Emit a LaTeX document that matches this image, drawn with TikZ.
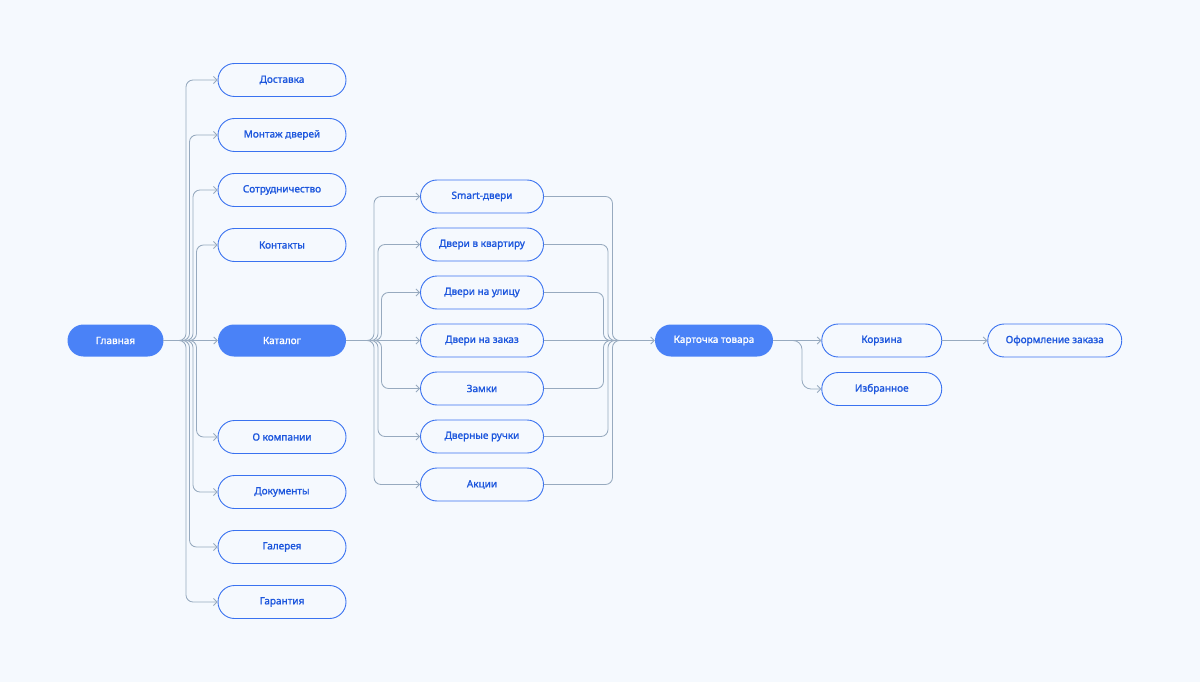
\documentclass[tikz,border=0pt]{standalone}
\usepackage{fontspec}
\newfontfamily\nf{Noto Sans}[FakeBold=1.4]
\usetikzlibrary{arrows.meta}
\definecolor{bg}{HTML}{F5F9FE}
\definecolor{nodefill}{HTML}{4A82F7}
\definecolor{nodeborder}{HTML}{3A72F0}
\definecolor{nodetext}{HTML}{1C56DD}
\definecolor{conncol}{HTML}{97AABF}
\begin{document}
\begin{tikzpicture}[x=1pt,y=-1pt,
  box/.style={draw=nodeborder, line width=0.9pt, rounded corners=16.5pt,
    minimum height=33pt, text=nodetext, inner sep=0pt,
    font=\nf\fontsize{10}{12}\selectfont},
  filled/.style={fill=nodefill, draw=none, rounded corners=16pt,
    minimum height=32pt, text=white, inner sep=0pt,
    font=\nf\fontsize{10}{12}\selectfont},
  conn/.style={draw=conncol, line width=0.85pt, rounded corners=7pt},
  arr/.style={-{Straight Barb[length=3.5pt,width=7pt]}}]
\fill[bg] (0,0) rectangle (1200,682);
\useasboundingbox (0,0) rectangle (1200,682);

% main row
\node[filled, minimum width=96pt] (g) at (115.5,340.5) {Главная};
\node[filled, minimum width=128pt] (cat) at (282,340.5) {Каталог};
\node[filled, minimum width=118pt] (kt) at (714,340.5) {Карточка товара};
\node[box, minimum width=120pt] (kor) at (881.75,340.5) {Корзина};
\node[box, minimum width=120pt] (izb) at (881.75,389) {Избранное};
\node[box, minimum width=134pt] (of) at (1054.75,340.5) {Оформление заказа};

% left column
\foreach \n/\y/\t in {d1/80/Доставка, d2/135/Монтаж дверей, d3/190/Сотрудничество, d4/245/Контакты,
    d6/437/О компании, d7/492/Документы, d8/547/Галерея, d9/602/Гарантия}
  \node[box, minimum width=128pt] (\n) at (282,\y) {\t};

% catalog children
\foreach \n/\y/\t in {c1/196.5/Smart-двери, c2/244.5/Двери в квартиру, c3/292.5/Двери на улицу,
    c4/340.5/Двери на заказ, c5/388.5/Замки, c6/436.5/Дверные ручки, c7/484.5/Акции}
  \node[box, minimum width=123pt] (\n) at (482,\y) {\t};

% connectors from Главная
\draw[conn,arr] (g) -- (cat);
\foreach \n/\xv in {d1/186, d2/189.5, d3/193, d4/196.5, d6/196.5, d7/193, d8/189.5, d9/186}
  \draw[conn,arr] (g.east) -- (\xv,340.5) |- (\n.west);

% connectors from Каталог
\draw[conn,arr] (cat) -- (c4);
\foreach \n/\xv in {c1/374, c2/378, c3/381.5, c5/381.5, c6/378, c7/374}
  \draw[conn,arr] (cat.east) -- (\xv,340.5) |- (\n.west);

% merge into Карточка товара
\coordinate (m) at (626,340.5);
\draw[conn,arr] (c4) -- (kt);
\foreach \n/\xv in {c1/612.5, c2/608, c3/603.5, c5/603.5, c6/608, c7/612.5}
  \draw[conn] (\n.east) -| (\xv,340.5) -- (m);

% right part
\draw[conn,arr] (kt) -- (kor);
\draw[conn,arr,rounded corners=9pt] (kt.east) -- (802,340.5) |- (izb.west);
\draw[conn,arr] (kor) -- (of);
\end{tikzpicture}
\end{document}
